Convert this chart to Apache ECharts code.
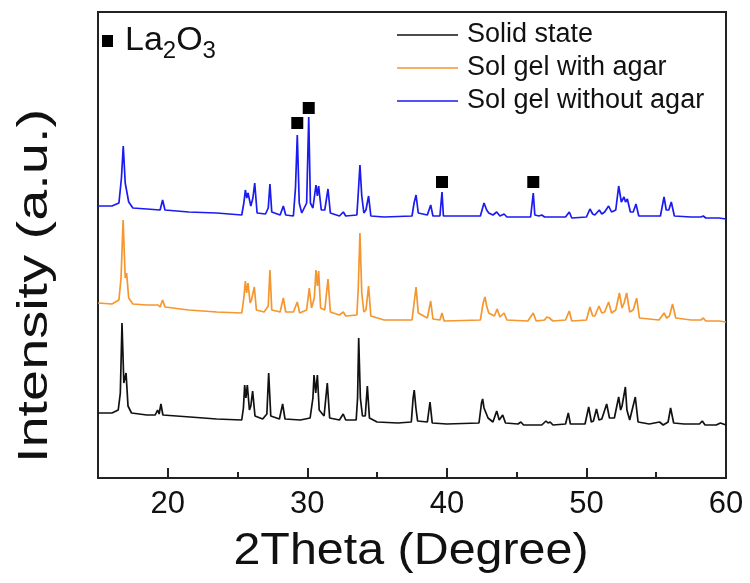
<!DOCTYPE html>
<html>
<head>
<meta charset="utf-8">
<script src="https://cdn.jsdelivr.net/npm/echarts@6/dist/echarts.min.js"></script>
<style>
html,body{margin:0;padding:0;background:#fff;}
#chart{width:750px;height:583px;}
</style>
</head>
<body>
<div id="chart"></div>
<script>
// ---- data (x = 2Theta in degrees, y = intensity in arbitrary units, series offset as in the figure) ----
const seriesNames = ['Solid state', 'Sol gel with agar', 'Sol gel without agar'];
const xTickValues = [20, 30, 40, 50, 60];
const xMinorTickValues = [25, 35, 45, 55];

const solidState = [
  [15.0,65],[16.0,65],[16.45,68],[16.6,85],[16.72,155],[16.85,95],[17.01,105],[17.15,72],[17.4,65],
  [18.5,63],[19.1,63],[19.27,68],[19.38,64],[19.51,74],[19.65,63],[21.6,61],[23.5,59],[25.3,58],
  [25.42,70],[25.51,93],[25.6,80],[25.7,93],[25.85,68],[25.95,72],[26.08,87],[26.25,62],[26.8,59],
  [27.1,64],[27.23,105],[27.38,62],[28.0,59],[28.23,74],[28.4,59],[29.5,58],[30.2,60],[30.4,80],
  [30.48,103],[30.6,85],[30.72,103],[30.85,68],[31.2,62],[31.43,95],[31.6,60],[32.3,58],[32.57,64],
  [32.75,58],[33.5,58],[33.6,80],[33.68,140],[33.8,80],[33.95,62],[34.15,62],[34.3,92],[34.45,60],
  [35.0,56],[36.5,55],[37.45,56],[37.58,80],[37.66,88],[37.78,70],[37.9,57],[38.6,56],[38.79,76],
  [38.95,55],[40.0,54],[42.3,55],[42.48,75],[42.56,79],[42.66,70],[42.8,71],[42.95,60],[43.3,56],
  [43.57,67],[43.75,58],[44.0,63],[44.2,55],[45.1,54],[45.3,56],[45.5,53],[46.8,53],[47.1,57],
  [47.25,55],[47.4,56],[47.6,53],[48.5,54],[48.7,65],[48.85,54],[49.9,54],[50.16,71],[50.35,56],
  [50.5,57],[50.72,69],[50.9,58],[51.1,59],[51.45,74],[51.65,60],[52.0,60],[52.31,81],[52.45,68],
  [52.55,72],[52.79,91],[52.9,68],[53.1,58],[53.5,81],[53.7,56],[54.5,54],[55.24,56],[55.5,53],
  [55.85,56],[56.03,70],[56.25,55],[57.0,54],[58.1,54],[58.3,57],[58.5,53],[59.3,53],[59.6,55],[60.0,53]
];

const solGelWithAgar = [
  [15.0,175],[16.0,174],[16.5,178],[16.65,200],[16.8,258],[16.95,200],[17.05,205],[17.2,180],[17.5,174],
  [18.5,173],[19.3,173],[19.45,171],[19.63,178],[19.8,171],[21.5,168],[23.5,166],[25.3,165],
  [25.45,180],[25.56,197],[25.65,185],[25.75,195],[25.9,175],[26.0,178],[26.2,191],[26.35,168],
  [26.9,166],[27.2,172],[27.32,208],[27.45,168],[28.05,166],[28.28,180],[28.45,166],[29.0,166],
  [29.28,176],[29.45,165],[29.95,168],[30.14,190],[30.3,170],[30.5,180],[30.62,208],[30.72,192],
  [30.81,207],[30.95,170],[31.25,168],[31.48,199],[31.65,166],[32.3,163],[32.58,166],[32.75,162],
  [33.55,163],[33.65,190],[33.77,245],[33.9,185],[34.05,166],[34.2,168],[34.39,192],[34.55,162],
  [35.5,158],[37.5,158],[37.65,175],[37.79,191],[37.95,165],[38.6,160],[38.84,177],[39.0,159],
  [39.5,158],[39.65,165],[39.8,157],[42.4,158],[42.6,175],[42.73,181],[42.85,172],[43.0,165],
  [43.4,162],[43.6,169],[43.8,161],[44.1,165],[44.3,158],[45.8,157],[46.19,165],[46.4,157],
  [47.0,158],[47.16,161],[47.35,160],[47.6,157],[48.5,158],[48.77,167],[48.95,157],[50.0,158],
  [50.25,171],[50.45,162],[50.6,162],[50.9,172],[51.1,165],[51.3,166],[51.59,176],[51.8,165],
  [52.1,168],[52.36,185],[52.55,170],[52.7,175],[52.88,185],[53.1,166],[53.35,168],[53.6,180],
  [53.8,160],[55.2,158],[55.56,165],[55.75,160],[55.95,162],[56.17,174],[56.4,160],[57.5,158],
  [58.2,158],[58.37,160],[58.55,157],[59.5,157],[60.0,156]
];

const solGelWithoutAgar = [
  [15.0,272],[16.0,272],[16.5,275],[16.68,300],[16.81,332],[16.95,295],[17.05,296],[17.2,276],[17.5,270],
  [18.5,269],[19.45,268],[19.63,278],[19.8,268],[21.5,266],[23.5,265],[25.3,263],[25.45,275],
  [25.56,288],[25.66,280],[25.75,285],[25.95,272],[26.1,280],[26.23,295],[26.4,265],[27.0,264],
  [27.2,270],[27.32,294],[27.45,266],[28.05,263],[28.28,272],[28.45,263],[29.0,262],[29.15,290],
  [29.28,343],[29.42,275],[29.6,265],[29.95,275],[30.1,361],[30.22,275],[30.4,270],[30.62,293],
  [30.72,282],[30.81,292],[31.0,268],[31.25,268],[31.48,289],[31.65,265],[32.3,262],[32.58,266],
  [32.75,262],[33.55,263],[33.65,285],[33.77,313],[33.9,282],[34.05,265],[34.2,268],[34.39,282],
  [34.55,262],[35.5,261],[37.5,262],[37.65,275],[37.79,283],[37.95,265],[38.6,263],[38.84,273],
  [39.0,262],[39.5,262],[39.65,286],[39.75,262],[42.4,262],[42.6,272],[42.66,275],[42.85,268],
  [43.0,265],[43.3,263],[43.57,266],[43.8,262],[44.1,264],[44.3,261],[46.0,261],[46.19,285],
  [46.3,263],[46.6,262],[46.8,263],[47.0,261],[48.5,261],[48.77,266],[48.95,260],[50.0,261],
  [50.25,269],[50.45,264],[50.6,263],[50.92,268],[51.1,264],[51.3,266],[51.59,272],[51.8,266],
  [52.1,268],[52.31,292],[52.5,276],[52.69,281],[52.8,276],[52.93,279],[53.15,266],[53.35,266],
  [53.55,274],[53.75,262],[55.3,262],[55.56,281],[55.72,268],[55.9,268],[56.08,276],[56.3,262],
  [57.5,261],[58.2,261],[58.37,262],[58.55,260],[59.5,260],[60.0,259]
];

// La2O3 reflections marked with squares above the "without agar" pattern
const la2o3Markers = [[29.28,355],[30.1,370],[39.65,296],[46.19,296]];

// ---- chart ----
const FONT = '"Liberation Sans", Arial, Helvetica, sans-serif';
const chart = echarts.init(document.getElementById('chart'), null, {renderer: 'canvas'});

const lineSeries = (name, data, color) => ({
  name: name,
  type: 'line',
  data: data,
  xAxisIndex: 0,
  yAxisIndex: 0,
  symbol: 'none',
  showSymbol: false,
  smooth: false,
  lineStyle: {color: color, width: 1.7},
  itemStyle: {color: color},
  emphasis: {disabled: true},
  animation: false
});

const option = {
  animation: false,
  backgroundColor: '#fff',
  grid: {
    left: 98, right: 24, top: 12, bottom: 105,
    show: true, borderColor: '#222', borderWidth: 2, backgroundColor: 'transparent',
    containLabel: false
  },
  legend: {
    data: seriesNames,
    orient: 'vertical',
    left: 397,
    top: 20,
    icon: 'rect',
    itemWidth: 61,
    itemHeight: 1.6,
    itemGap: 3,
    padding: 0,
    textStyle: {fontSize: 27, fontFamily: FONT, color: '#111', lineHeight: 30, padding: [0, 0, 0, 4]},
    selectedMode: false
  },
  xAxis: [
    {
      type: 'value', min: 15, max: 60, position: 'bottom',
      axisLine: {show: true, onZero: false, lineStyle: {color: '#222', width: 2}},
      axisTick: {show: true, inside: true, length: 10, customValues: xTickValues, lineStyle: {color: '#222', width: 2}},
      axisLabel: {show: true, customValues: xTickValues, margin: 11, fontSize: 31, fontFamily: FONT, color: '#111'},
      splitLine: {show: false}
    },
    {
      type: 'value', min: 15, max: 60, position: 'bottom',
      axisLine: {show: false},
      axisTick: {show: true, inside: true, length: 6, customValues: xMinorTickValues, lineStyle: {color: '#222', width: 2}},
      axisLabel: {show: false},
      splitLine: {show: false}
    }
  ],
  yAxis: {
    type: 'value', min: 0, max: 466,
    axisLine: {show: false}, axisTick: {show: false}, axisLabel: {show: false}, splitLine: {show: false}
  },
  series: [
    lineSeries(seriesNames[0], solidState, '#111111'),
    lineSeries(seriesNames[1], solGelWithAgar, '#f5962f'),
    lineSeries(seriesNames[2], solGelWithoutAgar, '#1a1af2'),
    {
      name: 'La2O3',
      type: 'scatter',
      data: la2o3Markers,
      symbol: 'rect',
      symbolSize: 12,
      itemStyle: {color: '#000', opacity: 1},
      emphasis: {disabled: true},
      animation: false
    }
  ],
  graphic: [
    {type: 'rect', shape: {x: 102, y: 35, width: 11, height: 12}, style: {fill: '#000'}},
    {
      type: 'text', x: 125, y: 41,
      style: {
        text: '{m|La}{s|2}{m|O}{s|3}',
        fill: '#111',
        textAlign: 'left', textVerticalAlign: 'middle', align: 'left', verticalAlign: 'middle',
        rich: {
          m: {fontSize: 34, fontFamily: FONT, color: '#111', lineHeight: 44},
          s: {fontSize: 24, fontFamily: FONT, color: '#111', lineHeight: 10, verticalAlign: 'bottom'}
        }
      }
    },
    {
      type: 'text', x: 411, y: 552, scaleX: 1.1,
      style: {
        text: '2Theta (Degree)', font: '44px ' + FONT, fill: '#111',
        textAlign: 'center', textVerticalAlign: 'middle', align: 'center', verticalAlign: 'middle'
      }
    },
    {
      type: 'text', x: 35, y: 286, rotation: Math.PI / 2, scaleX: 1.3,
      style: {
        text: 'Intensity (a.u.)', font: '43px ' + FONT, fill: '#111',
        textAlign: 'center', textVerticalAlign: 'middle', align: 'center', verticalAlign: 'middle'
      }
    }
  ]
};
chart.setOption(option);
</script>
</body>
</html>
